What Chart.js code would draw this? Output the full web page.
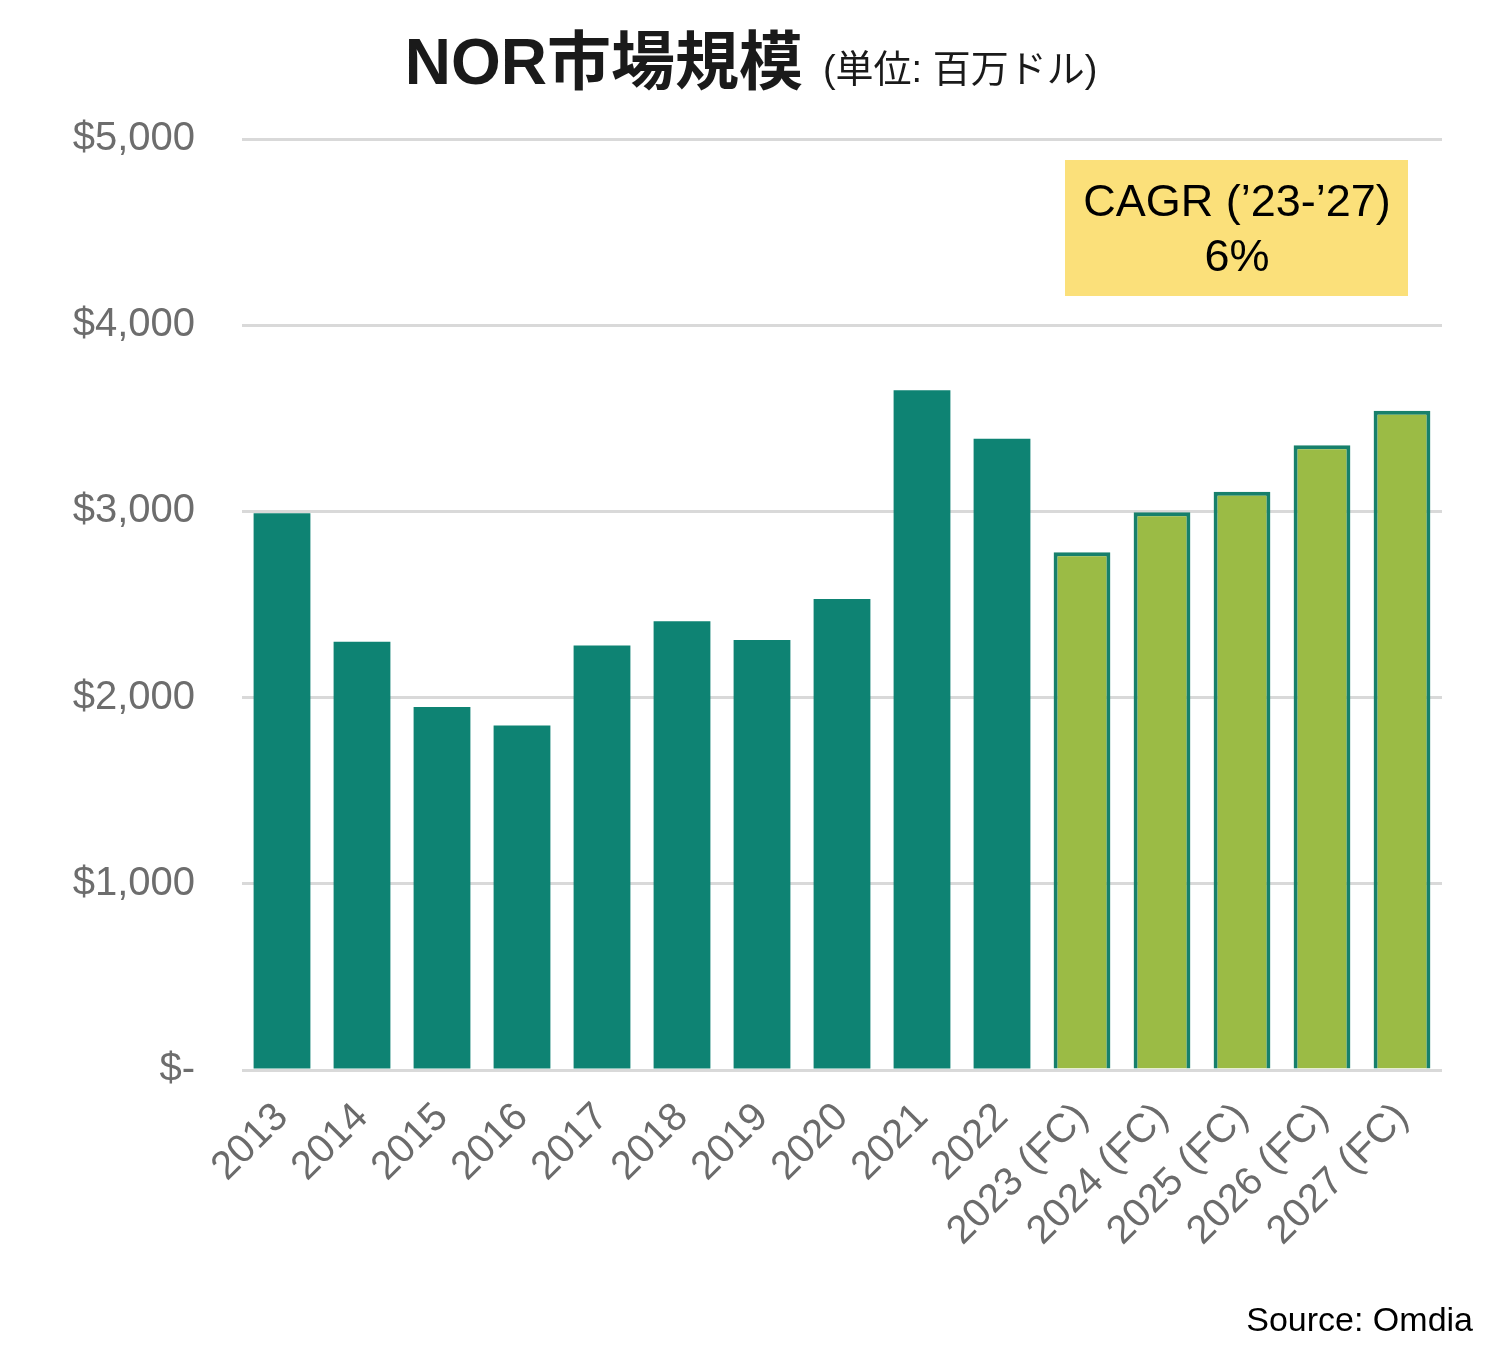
<!DOCTYPE html>
<html>
<head>
<meta charset="utf-8">
<script src="https://cdn.jsdelivr.net/npm/chart.js@4/dist/chart.umd.min.js"></script>
<style>
  body { margin: 0; background: #fff; }
  #wrap { width: 1510px; height: 1364px; }
</style>
</head>
<body>
<div id="wrap"><canvas id="norChart" width="1510" height="1364"></canvas></div>
<script>
// NOR market size, million USD
const categories = ['2013', '2014', '2015', '2016', '2017', '2018', '2019', '2020', '2021', '2022',
                    '2023 (FC)', '2024 (FC)', '2025 (FC)', '2026 (FC)', '2027 (FC)'];
const actualValues = [2990, 2300, 1950, 1850, 2280, 2410, 2310, 2530, 3650, 3390];
const forecastValues = [2780, 2995, 3105, 3355, 3540];
const yTicks = [0, 1000, 2000, 3000, 4000, 5000];

const titleMain = 'NOR市場規模';
const titleUnit = '(単位: 百万ドル)';
const cagrLines = ['CAGR (\u201923-\u201927)', '6%'];
const sourceText = 'Source: Omdia';

const FONT = "'Liberation Sans', Arial, 'Noto Sans CJK JP', sans-serif";

// pad the two series so each sits on its own categories
const actualData = categories.map((c, i) => i < actualValues.length ? actualValues[i] : null);
const forecastData = categories.map((c, i) => {
    const j = i - actualValues.length;
    return j >= 0 ? forecastValues[j] : null;
});

const decorations = {
    id: 'decorations',
    afterDraw(chart) {
        const ctx = chart.ctx;
        ctx.save();
        // title, two font sizes
        ctx.textBaseline = 'alphabetic';
        ctx.fillStyle = '#1a1a1a';
        ctx.font = "bold 64px " + FONT;
        const w1 = ctx.measureText(titleMain).width;
        ctx.font = "38px " + FONT;
        const w2 = ctx.measureText(titleUnit).width;
        const gap = 20;
        let x = 751 - (w1 + gap + w2) / 2;
        ctx.textAlign = 'left';
        ctx.font = "bold 64px " + FONT;
        ctx.fillText(titleMain, x, 84);
        ctx.font = "38px " + FONT;
        ctx.fillText(titleUnit, x + w1 + gap, 82);

        // CAGR box
        ctx.fillStyle = '#fbe07a';
        ctx.fillRect(1065, 160, 343, 136);
        ctx.fillStyle = '#000';
        ctx.textAlign = 'center';
        ctx.textBaseline = 'middle';
        ctx.font = "45px " + FONT;
        ctx.fillText(cagrLines[0], 1237, 204);
        ctx.fillText(cagrLines[1], 1237, 259);

        // source
        ctx.textAlign = 'right';
        ctx.textBaseline = 'alphabetic';
        ctx.font = "34px " + FONT;
        ctx.fillText(sourceText, 1473, 1331);
        ctx.restore();
    }
};

const ctx = document.getElementById('norChart').getContext('2d');
new Chart(ctx, {
    type: 'bar',
    data: {
        labels: categories,
        datasets: [{
            label: 'Actual',
            data: actualData,
            backgroundColor: '#0e8373',
            borderWidth: 0,
            barPercentage: 0.71,
            categoryPercentage: 1
        }, {
            label: 'Forecast',
            data: forecastData,
            backgroundColor: '#9bbb45',
            borderColor: '#17806b',
            borderWidth: 4,
            barPercentage: 0.71,
            categoryPercentage: 1
        }]
    },
    options: {
        responsive: false,
        animation: false,
        layout: { padding: { left: 0, right: 68, top: 139, bottom: 0 } },
        plugins: {
            legend: { display: false },
            title: { display: false },
            tooltip: { enabled: false }
        },
        scales: {
            x: {
                stacked: true,
                grid: { display: false },
                border: { display: false },
                ticks: {
                    color: '#6b6b6b',
                    font: { family: FONT, size: 40 },
                    minRotation: 45,
                    maxRotation: 45,
                    autoSkip: false,
                    padding: 16
                },
                afterFit(scale) { scale.height = 294; }
            },
            y: {
                stacked: true,
                min: 0,
                max: 5000,
                afterBuildTicks(scale) { scale.ticks = yTicks.map(v => ({ value: v })); },
                grid: { color: '#d9d9d9', lineWidth: 3, drawTicks: false },
                border: { display: false },
                ticks: {
                    color: '#6d6d6d',
                    font: { family: FONT, size: 40 },
                    padding: 47,
                    callback: v => v === 0 ? '$-' : '$' + v.toLocaleString('en-US')
                },
                afterFit(scale) { scale.width = 242; }
            }
        }
    },
    plugins: [decorations]
});
</script>
</body>
</html>
